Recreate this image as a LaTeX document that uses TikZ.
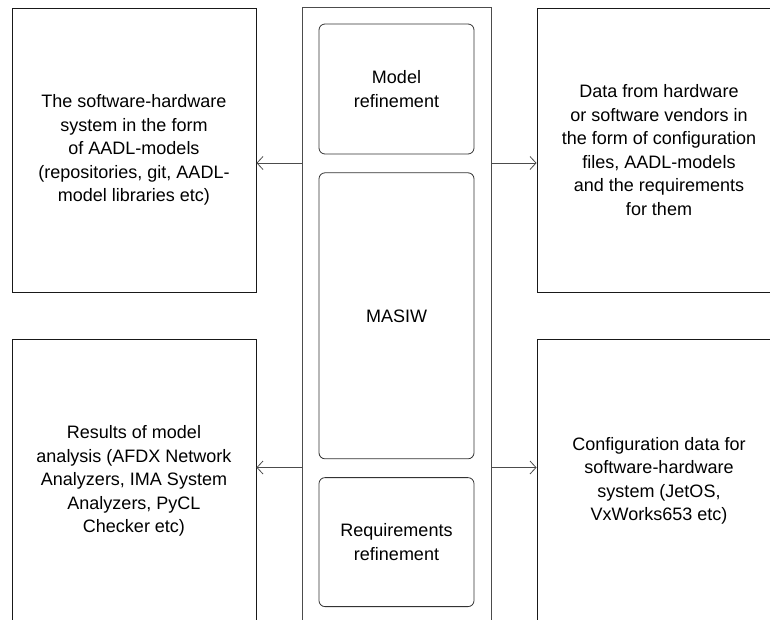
\documentclass[tikz,border=0pt]{standalone}
\usepackage{fontspec}
\setmainfont{Liberation Sans}
\usetikzlibrary{arrows.meta,positioning}

\begin{document}
\begin{tikzpicture}[x=1pt, y=-1pt, >={Straight Barb[length=6pt,width=13pt]},
  font=\fontsize{18}{23.5}\selectfont,
  box/.style={rectangle, draw=black!90, line width=0.9pt, align=center,
              minimum width=244pt, minimum height=284pt},
  hub/.style={rectangle, draw=black!70, line width=0.9pt,
              minimum width=189pt, minimum height=623pt},
  sub/.style={rectangle, rounded corners=6pt, draw=black!80, line width=0.8pt,
              align=center, minimum width=155pt},
  link/.style={->, draw=black!70, line width=0.8pt}]
  \clip (0,0) rectangle (770,619);
  \node[box] (sys) at (134,150) {The software-hardware\\system in the form\\of AADL-models\\(repositories, git, AADL-\\model libraries etc)};
  \node[box] (res) at (134,481) {Results of model\\analysis (AFDX Network\\Analyzers, IMA System\\Analyzers, PyCL\\Checker etc)};
  \node[box] (ven) at (659,150) {Data from hardware\\or software vendors in\\the form of configuration\\files, AADL-models\\and the requirements\\for them};
  \node[box] (cfg) at (659,481) {Configuration data for\\software-hardware\\system (JetOS,\\VxWorks653 etc)};
  \node[hub] (hub) at (396.5,319) {};
  \node[sub, minimum height=130pt] (mr) at (396.5,89) {Model\\refinement};
  \node[sub, minimum height=286pt, below=18pt of mr] (masiw) {MASIW};
  \node[sub, minimum height=129pt, below=18pt of masiw] (rr) {Requirements\\refinement};
  \coordinate (l1) at ([yshift=-13pt]sys.east);
  \coordinate (l2) at ([yshift=13.5pt]res.east);
  \coordinate (r1) at ([yshift=-13pt]ven.west);
  \coordinate (r2) at ([yshift=13.5pt]cfg.west);
  \draw[link] (l1 -| hub.west) -- (l1);
  \draw[link] (l2 -| hub.west) -- (l2);
  \draw[link] (r1 -| hub.east) -- (r1);
  \draw[link] (r2 -| hub.east) -- (r2);
\end{tikzpicture}
\end{document}
